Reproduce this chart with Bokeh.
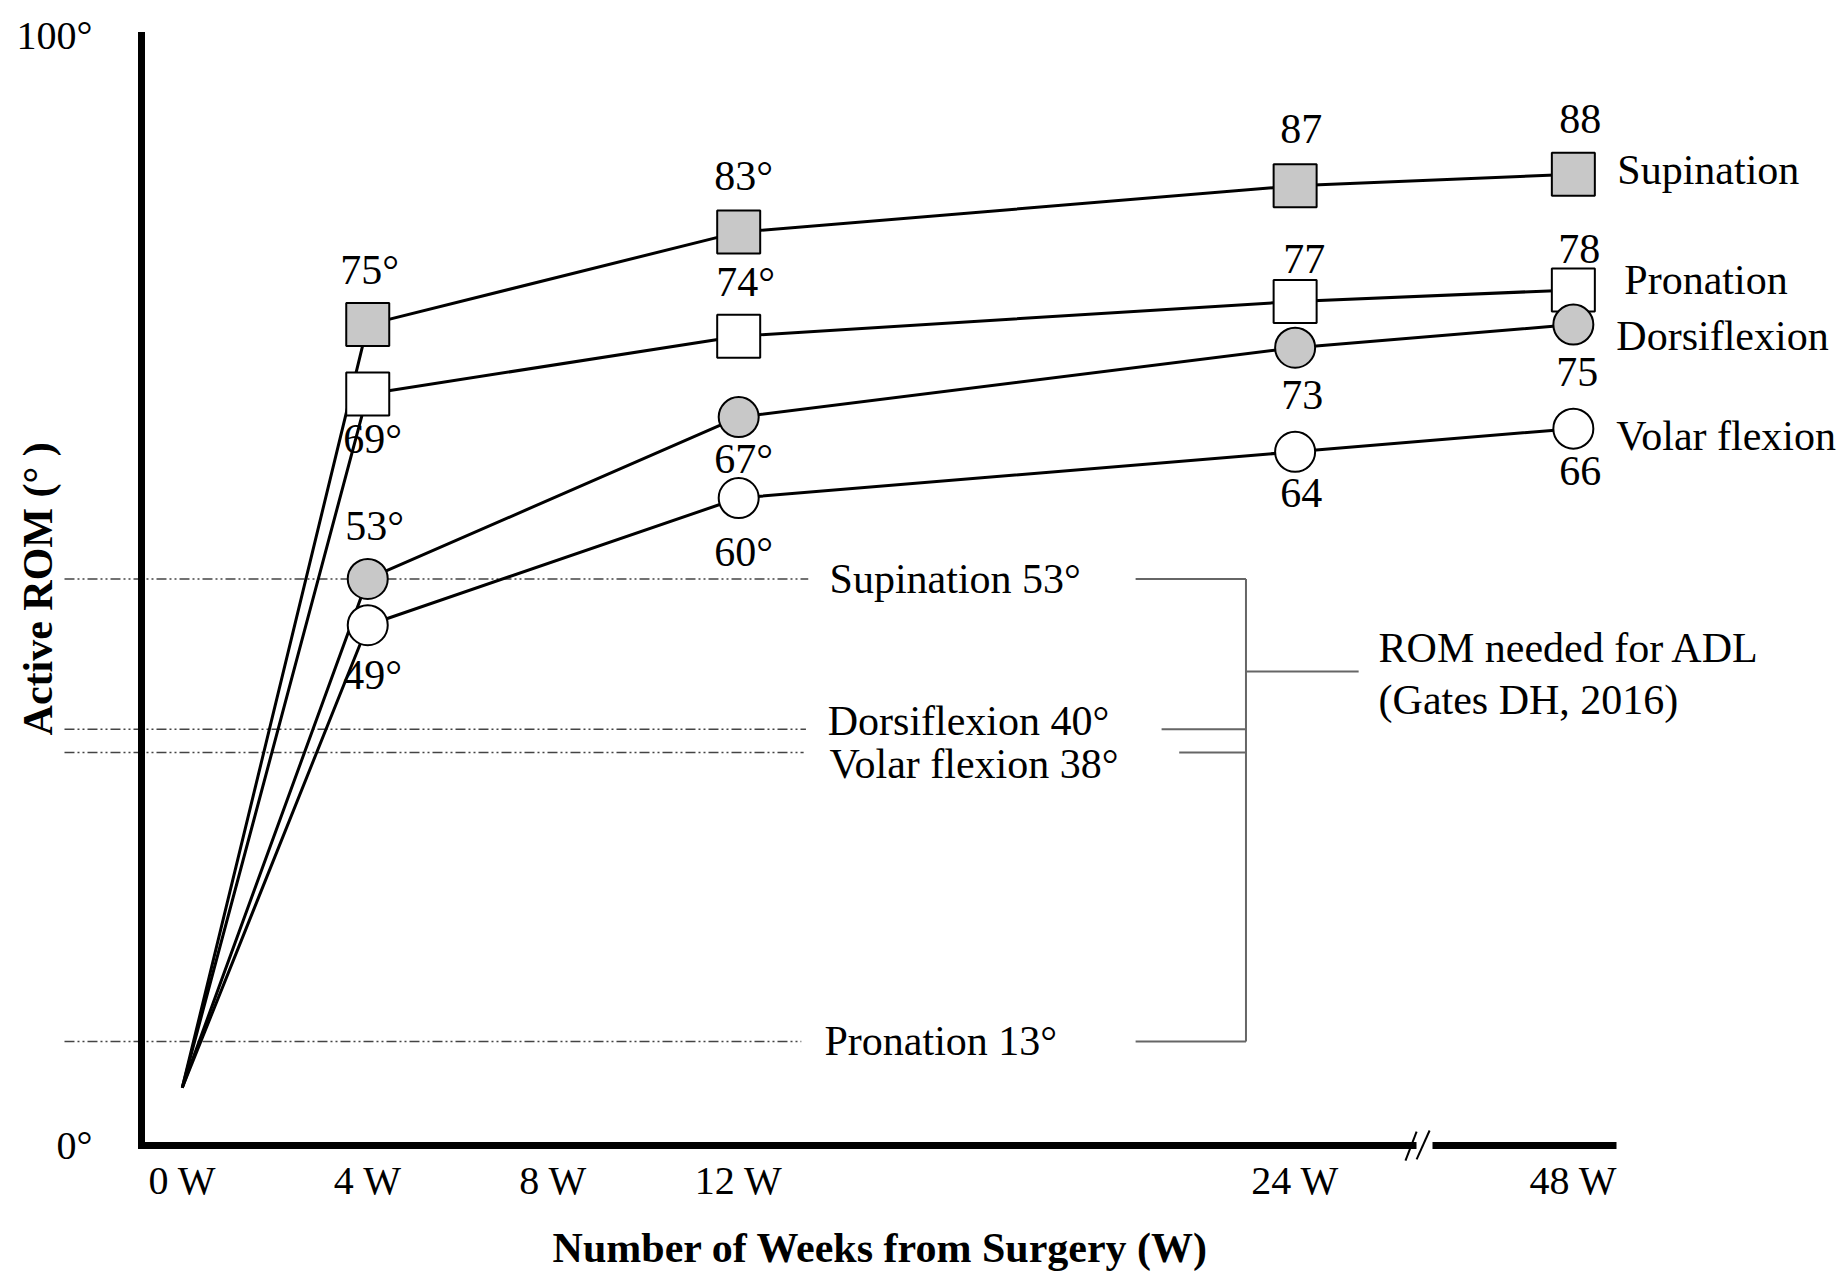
import math
from bokeh.plotting import figure
from bokeh.models import Range1d, LinearAxis, FixedTicker, Label, ColumnDataSource
from bokeh.core.properties import value
from bokeh.embed import file_html
from bokeh.resources import INLINE

# ---------------- data ----------------
weeks = [0, 4, 12, 24, 48]
tick_weeks = [0, 4, 8, 12, 24, 48]
tick_labels = ["0 W", "4 W", "8 W", "12 W", "24 W", "48 W"]

series_names = ["Supination", "Pronation", "Dorsiflexion", "Volar flexion"]
supination = [9, 75, 83, 87, 88]
pronation = [9, 69, 74, 77, 78]
dorsiflexion = [9, 53, 67, 73, 75]
volar_flexion = [9, 49, 60, 64, 66]

supination_labels = ["75°", "83°", "87", "88"]
pronation_labels = ["69°", "74°", "77", "78"]
dorsiflexion_labels = ["53°", "67°", "73", "75"]
volar_flexion_labels = ["49°", "60°", "64", "66"]

adl_names = ["Supination", "Dorsiflexion", "Volar flexion", "Pronation"]
adl_values = [53, 40, 38, 13]
adl_title = ["ROM needed for ADL", "(Gates DH, 2016)"]

y_tick_labels = ["0°", "100°"]

# ---------------- layout / style ----------------
W, H = 1839, 1278
FONT = "Liberation Serif"
Y_BASE, Y_TOP = 4, 100          # axis baseline (drawn as 0°) and top
X_LEFT, X_RIGHT = -0.88, 30.93  # axis extent in position units
BREAK = (26.62, 26.96)


def axis_pos(w):
    """broken x axis: linear up to 24 W, compressed afterwards"""
    return w if w <= 24 else 24 + (w - 24) * 0.25


p = figure(width=W, height=H, x_range=Range1d(-3.92, 35.74), y_range=Range1d(-7.5, 103.03),
           output_backend="svg", toolbar_location=None, min_border=0,
           x_axis_type=None, y_axis_type=None)
p.outline_line_color = None
p.background_fill_color = "white"
p.border_fill_color = "white"

# ---------------- axes ----------------
common = dict(axis_line_width=7, axis_line_color="black",
              major_tick_in=0, major_tick_out=0, minor_tick_in=0, minor_tick_out=0,
              major_label_text_font=FONT, major_label_text_font_size="40px",
              major_label_text_color="black")

yaxis = LinearAxis(fixed_location=X_LEFT, bounds=(Y_BASE, Y_TOP),
                   ticker=FixedTicker(ticks=[Y_BASE, Y_TOP]),
                   major_label_overrides={Y_BASE: y_tick_labels[0], Y_TOP: y_tick_labels[1]},
                   major_label_standoff=49, axis_line_cap="square", **common)
p.add_layout(yaxis, "left")

tpos = [axis_pos(w) for w in tick_weeks]
left_ticks = [t for t in tpos if t < BREAK[0]]
right_ticks = [t for t in tpos if t > BREAK[1]]
over = {t: lab for t, lab in zip(tpos, tick_labels)}

xaxis1 = LinearAxis(fixed_location=Y_BASE, bounds=(X_LEFT, BREAK[0]),
                    ticker=FixedTicker(ticks=left_ticks),
                    major_label_overrides={t: over[t] for t in left_ticks},
                    major_label_standoff=12, **common)
xaxis2 = LinearAxis(fixed_location=Y_BASE, bounds=(BREAK[1], X_RIGHT),
                    ticker=FixedTicker(ticks=right_ticks),
                    major_label_overrides={t: over[t] for t in right_ticks},
                    major_label_standoff=12, **common)
p.add_layout(xaxis1, "below")
p.add_layout(xaxis2, "below")

# break marks "//"
p.segment(x0=[26.38, 26.62], y0=[2.7, 2.8], x1=[26.62, 26.90], y1=[5.2, 5.3],
          line_color="black", line_width=2)

# ---------------- ADL reference lines ----------------
p.segment(x0=[-2.54] * 4, y0=adl_values, x1=[13.5, 13.45, 13.4, 13.35], y1=adl_values,
          line_color="#444444", line_width=1.5, line_dash="10 3 2 3 2 3")

adl_src = ColumnDataSource(dict(x=[13.96, 13.92, 13.96, 13.85], y=adl_values,
                                t=[f"{n} {v}°" for n, v in zip(adl_names, adl_values)],
                                dy=[0, -8, 12, 0]))
p.text(x="x", y="y", text="t", y_offset="dy", source=adl_src, text_align="left",
       text_baseline="middle", text_font=value(FONT), text_font_size="42px", text_color="black")

# bracket
bx = 22.94
p.segment(x0=[20.56, 21.12, 21.5, 20.56], y0=adl_values, x1=[bx] * 4, y1=adl_values,
          line_color="#666666", line_width=2)
p.segment(x0=[bx], y0=[max(adl_values)], x1=[bx], y1=[min(adl_values)],
          line_color="#666666", line_width=2)
p.segment(x0=[bx], y0=[45], x1=[25.37], y1=[45], line_color="#666666", line_width=2)
p.text(x=[25.8, 25.8], y=[47, 42.5], text=adl_title, text_align="left", text_baseline="middle",
       text_font=value(FONT), text_font_size="42px", text_color="black")

# ---------------- series ----------------
xs = [axis_pos(w) for w in weeks]
all_series = [supination, pronation, dorsiflexion, volar_flexion]
all_labels = [supination_labels, pronation_labels, dorsiflexion_labels, volar_flexion_labels]
markers = ["square", "square", "circle", "circle"]
fills = ["#c8c8c8", "white", "#c8c8c8", "white"]
msize = [43, 43, 40, 40]
lab_dx = [[2, 5, 6, 7], [5, 7, 9, 6], [7, 5, 7, 4], [5, 5, 6, 7]]
lab_dy = [[-55, -56, -57, -55], [45, -54, -42, -41], [-53, 42, 47, 47], [50, 54, 41, 42]]
name_dx = [44, 51, 43, 43]
name_dy = [-4, -10, 11, 7]

for vals in all_series:
    p.line(xs, vals, line_color="black", line_width=3)

for vals, labs, mk, fc, ms, dx, dy, nm, ndx, ndy in zip(all_series, all_labels, markers, fills,
                                                       msize, lab_dx, lab_dy, series_names,
                                                       name_dx, name_dy):
    p.scatter(xs[1:], vals[1:], marker=mk, size=ms, fill_color=fc, line_color="black",
              line_width=2)
    src = ColumnDataSource(dict(x=xs[1:], y=vals[1:], t=labs, dx=dx, dy=dy))
    p.text(x="x", y="y", text="t", x_offset="dx", y_offset="dy", source=src,
           text_align="center", text_baseline="middle", text_font=value(FONT),
           text_font_size="42px", text_color="black")
    p.text(x=[xs[-1]], y=[vals[-1]], text=[nm], x_offset=ndx, y_offset=ndy,
           text_align="left", text_baseline="middle", text_font=value(FONT),
           text_font_size="42px", text_color="black")

# ---------------- titles ----------------
p.add_layout(Label(x=-3.12, y=52.6, text="Active ROM (°  )", angle=math.pi / 2,
                   text_align="center", text_baseline="middle", text_font=FONT,
                   text_font_style="bold", text_font_size="42px", text_color="black"))
p.add_layout(Label(x=15.06, y=-4.9, text="Number of Weeks from Surgery (W)",
                   text_align="center", text_baseline="middle", text_font=FONT,
                   text_font_style="bold", text_font_size="42px", text_color="black"))

open("out.html", "w").write(file_html(p, INLINE))
